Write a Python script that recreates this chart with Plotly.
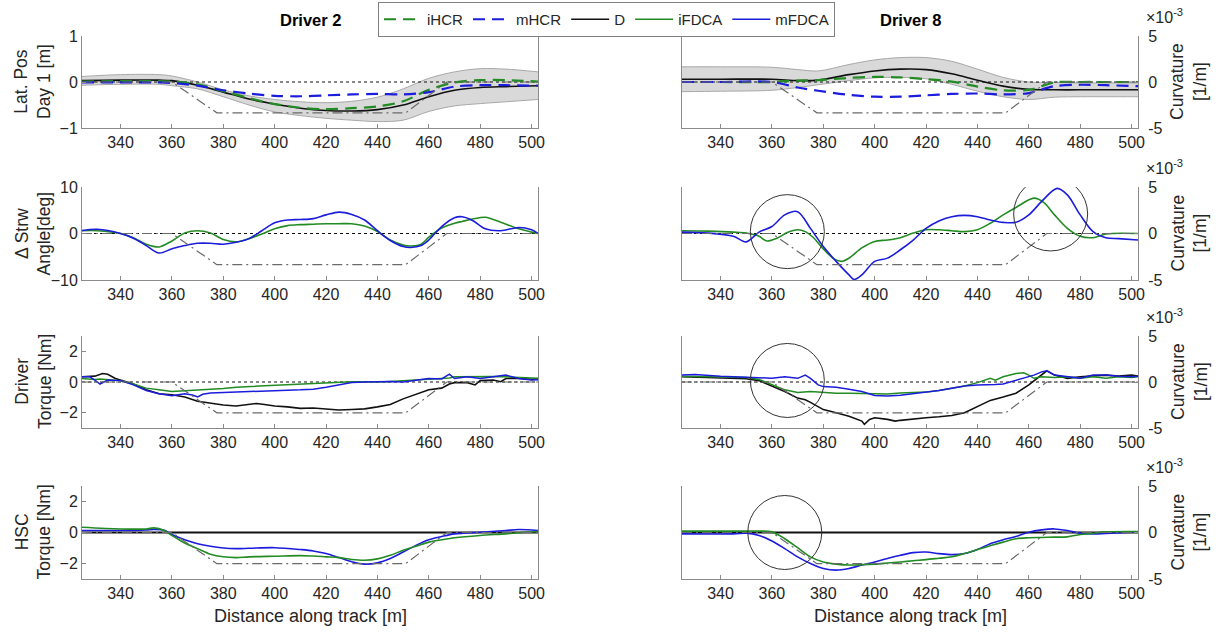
import plotly.graph_objects as go

FONT = "Liberation Sans, Arial, Helvetica, sans-serif"
TXT = "#262626"
AX = "#8a8a8a"
GREEN = "#238b23"
BLUE = "#1c1cdc"
BLACK = "#111111"
BAND_FILL = "#d9d9d9"
BAND_EDGE = "#a8a8a8"
CURV_COL = "#6a6a6a"

W, H = 1225, 635

# ---------------- shared axes ----------------
dist_range = [325, 502.5]
dist_ticks = [340, 360, 380, 400, 420, 440, 460, 480, 500]

# Track curvature along the lane change [1/m]
curv_x = [325, 360, 377.5, 451, 467, 502.5]
curv_k = [0.0, 0.0, -3.35e-3, -3.35e-3, 0.0, 0.0]
curv_ticks = [-5e-3, 0.0, 5e-3]
curv_ticktext = ["-5", "0", "5"]

ref_x = [325, 502.5]
ref_zero = [0.0, 0.0]

# ---------------- row 1: lateral position [m] ----------------
d2_lat_x = [325, 340, 355, 360, 370, 380, 390, 400, 410, 420, 430, 440, 450, 460, 470, 480, 490, 502.5]
d2_lat_hi = [0.12, 0.16, 0.16, 0.13, 0.00, -0.17, -0.30, -0.38, -0.43, -0.45, -0.42, -0.33, -0.15, 0.08, 0.22, 0.29, 0.28, 0.22]
d2_lat_lo = [-0.07, -0.05, -0.05, -0.08, -0.15, -0.32, -0.50, -0.65, -0.73, -0.79, -0.83, -0.86, -0.83, -0.64, -0.52, -0.47, -0.43, -0.38]
d2_lat_D = [0.03, 0.04, 0.04, 0.03, -0.07, -0.22, -0.37, -0.48, -0.57, -0.62, -0.63, -0.60, -0.50, -0.32, -0.18, -0.12, -0.10, -0.08]
d2_lat_iHCR = [0.01, 0.02, 0.02, 0.01, -0.05, -0.20, -0.35, -0.48, -0.56, -0.59, -0.57, -0.53, -0.42, -0.17, -0.01, 0.04, 0.04, 0.01]
d2_lat_mHCR = [-0.01, -0.01, -0.01, -0.02, -0.08, -0.18, -0.25, -0.30, -0.31, -0.29, -0.27, -0.26, -0.27, -0.22, -0.10, -0.07, -0.07, -0.08]

d8_lat_x = [325, 340, 360, 370, 378, 390, 400, 410, 420, 430, 440, 450, 460, 470, 480, 490, 502.5]
d8_lat_hi = [0.33, 0.33, 0.32, 0.27, 0.24, 0.38, 0.48, 0.53, 0.53, 0.45, 0.28, 0.10, 0.00, -0.01, -0.02, -0.02, -0.02]
d8_lat_lo = [-0.21, -0.20, -0.18, -0.12, -0.06, 0.03, 0.09, 0.10, 0.07, -0.05, -0.20, -0.32, -0.38, -0.33, -0.32, -0.32, -0.32]
d8_lat_D = [0.06, 0.06, 0.06, 0.03, 0.04, 0.16, 0.24, 0.28, 0.27, 0.18, 0.04, -0.09, -0.16, -0.17, -0.17, -0.17, -0.17]
d8_lat_iHCR = [0.00, 0.00, 0.00, 0.03, 0.04, 0.09, 0.11, 0.10, 0.06, 0.01, -0.10, -0.18, -0.17, -0.01, 0.00, 0.00, 0.00]
d8_lat_mHCR = [0.00, 0.00, 0.00, -0.12, -0.19, -0.28, -0.32, -0.32, -0.29, -0.26, -0.25, -0.27, -0.24, -0.09, -0.06, -0.07, -0.09]

# ---------------- row 2: steering wheel angle difference [deg] ----------------
d2_str_x = [325, 331, 340, 345, 350, 355, 360, 365, 370, 375, 380, 385, 390, 395, 400, 405, 410, 415, 420,
            425, 430, 435, 440, 445, 450, 453, 457, 460, 465, 470, 473, 477, 482, 488, 495, 500, 502.5]
d2_str_mFDCA = [0.65, 0.9, 0.0, -1.0, -2.6, -4.2, -3.3, -2.6, -2.1, -2.1, -2.3, -1.9, -1.1, 0.6, 2.3, 2.9, 3.0, 3.2, 4.0,
                4.6, 4.1, 2.9, 0.6, -1.5, -2.8, -3.0, -2.6, -1.4, 1.5, 3.4, 3.6, 2.8, 1.0, 0.6, 1.3, 0.8, 0.0]
d2_str_iFDCA = [0.6, 0.6, 0.0, -0.9, -2.3, -2.9, -1.6, 0.1, 0.6, 0.1, -1.3, -1.8, -1.1, -0.1, 1.0, 1.7, 1.9, 2.0, 2.1,
                2.1, 2.1, 1.6, 0.4, -1.4, -2.5, -2.7, -2.3, -0.8, 1.2, 2.2, 2.6, 3.1, 3.5, 2.4, 1.0, 0.3, 0.0]

d8_str_x_m = [325, 335, 345, 350, 355, 360, 365, 370, 375, 380, 385, 390, 392, 395, 400, 405, 410, 415,
              420, 425, 430, 435, 440, 445, 450, 455, 460, 465, 471, 475, 480, 485, 490, 495, 502.5]
d8_str_mFDCA = [0.3, 0.1, -0.6, -1.8, 0.3, 1.5, 4.0, 4.7, 1.1, -2.8, -6.0, -8.9, -9.9, -8.9, -6.0, -5.3, -3.5, -1.4,
                1.1, 2.7, 3.6, 3.9, 3.6, 2.9, 2.4, 2.4, 4.0, 6.9, 9.7, 8.3, 4.0, 0.4, -0.9, -1.1, -1.4]
d8_str_x_i = [325, 335, 345, 350, 355, 358, 362, 366, 370, 373, 376, 380, 384, 387, 390, 395, 400, 405,
              410, 415, 420, 425, 430, 435, 440, 445, 450, 455, 462, 466, 470, 475, 480, 485, 490, 502.5]
d8_str_iFDCA = [0.6, 0.5, 0.3, 0.1, -0.6, -1.6, -1.0, 0.2, 0.8, 0.4, -0.8, -3.3, -5.4, -6.0, -5.3, -3.1, -1.7, -1.4,
                -0.9, 0.1, 0.8, 0.8, 0.6, 0.4, 0.8, 2.2, 4.0, 5.6, 7.6, 6.6, 4.0, 1.1, -0.6, -0.9, -0.1, 0.0]

# ---------------- row 3: driver torque [Nm] ----------------
d2_trq_x_D = [325, 330, 333, 335, 338, 340, 345, 350, 355, 360, 365, 370, 375, 380, 385, 390, 393, 396, 400, 405, 410, 415,
              420, 425, 430, 435, 440, 445, 450, 455, 460, 465, 468, 470, 475, 478, 480, 485, 488, 490, 495, 500, 502.5]
d2_trq_D = [0.34, 0.38, 0.55, 0.50, 0.23, 0.13, -0.13, -0.50, -0.77, -0.83, -0.98, -1.26, -1.40, -1.50, -1.57, -1.47, -1.40, -1.47,
            -1.57, -1.62, -1.72, -1.70, -1.75, -1.83, -1.79, -1.75, -1.62, -1.47, -1.10, -0.83, -0.51, -0.40, -0.13, -0.04,
            -0.04, -0.19, 0.09, 0.13, 0.02, 0.23, 0.23, 0.17, 0.23]
d2_trq_x_F = [325, 328, 330, 332, 335, 340, 345, 350, 355, 360, 365, 368, 370, 372, 375, 380, 385, 390, 395, 400, 405,
              410, 415, 420, 425, 430, 435, 440, 445, 450, 455, 460, 465, 468, 470, 475, 480, 485, 490, 495, 500, 502.5]
d2_trq_iFDCA = [0.23, 0.20, 0.17, 0.20, 0.17, 0.09, -0.13, -0.40, -0.51, -0.62, -0.57, -0.55, -0.51, -0.52, -0.51, -0.43, -0.34,
                -0.30, -0.26, -0.19, -0.16, -0.13, -0.08, -0.04, 0.00, 0.02, 0.01, 0.00, 0.04, 0.09, 0.13, 0.17, 0.23, 0.26,
                0.34, 0.36, 0.38, 0.36, 0.34, 0.30, 0.23, 0.25]
d2_trq_mFDCA = [0.34, 0.34, 0.13, -0.13, 0.13, 0.09, -0.19, -0.55, -0.77, -0.89, -0.77, -0.85, -0.98, -0.80, -0.72, -0.68, -0.65,
                -0.62, -0.58, -0.55, -0.53, -0.51, -0.47, -0.34, -0.19, -0.04, 0.00, 0.02, 0.03, 0.00, 0.13, 0.23, 0.20, 0.51,
                0.23, 0.34, 0.23, 0.34, 0.45, 0.23, 0.13, 0.15]

d8_trq_x_D = [325, 340, 350, 355, 360, 365, 370, 373, 375, 380, 385, 390, 395, 396, 398, 400, 405, 408, 410, 415,
              420, 425, 430, 435, 440, 445, 450, 455, 460, 465, 467, 470, 475, 480, 485, 490, 495, 500, 502.5]
d8_trq_D = [0.34, 0.28, 0.21, 0.09, -0.26, -0.62, -1.05, -1.16, -1.33, -1.80, -2.01, -2.23, -2.55, -2.76, -2.44, -2.33, -2.44,
            -2.55, -2.50, -2.40, -2.33, -2.27, -2.18, -2.01, -1.58, -1.20, -0.98, -0.73, -0.19, 0.45, 0.73, 0.45, 0.24,
            0.34, 0.38, 0.45, 0.38, 0.45, 0.38]
d8_trq_x_F = [325, 330, 340, 350, 355, 360, 365, 370, 373, 375, 378, 380, 385, 390, 395, 400, 405, 410, 415, 420, 425,
              430, 435, 440, 445, 447, 450, 455, 458, 460, 462, 465, 467, 470, 475, 480, 485, 490, 495, 500, 502.5]
d8_trq_iFDCA = [0.38, 0.36, 0.34, 0.30, 0.17, -0.19, -0.51, -0.68, -0.66, -0.62, -0.66, -0.68, -0.73, -0.73, -0.75, -0.80,
                -0.78, -0.72, -0.70, -0.66, -0.56, -0.41, -0.26, -0.04, 0.24, 0.12, 0.34, 0.56, 0.60, 0.45, 0.24, 0.34,
                0.32, 0.30, 0.34, 0.24, 0.34, 0.24, 0.34, 0.30, 0.34]
d8_trq_mFDCA = [0.45, 0.49, 0.38, 0.34, 0.28, 0.24, 0.34, 0.24, 0.45, 0.24, -0.19, -0.30, -0.34, -0.47, -0.62, -0.88, -0.92,
                -0.86, -0.77, -0.68, -0.56, -0.41, -0.26, -0.19, -0.19, -0.17, -0.13, 0.13, 0.25, 0.34, 0.45, 0.66, 0.73,
                0.45, 0.34, 0.24, 0.45, 0.45, 0.38, 0.34, 0.38]

# ---------------- row 4: HSC torque [Nm] ----------------
hsc_D_x = [325, 502.5]
hsc_D = [0.0, 0.0]

d2_hsc_x = [325, 340, 350, 353, 357, 360, 365, 370, 375, 380, 385, 390, 400, 410, 415, 420, 425, 430, 435, 440, 445,
            450, 455, 460, 465, 470, 480, 490, 495, 502.5]
d2_hsc_iFDCA = [0.34, 0.23, 0.23, 0.30, 0.13, -0.19, -0.68, -1.04, -1.40, -1.57, -1.62, -1.57, -1.53, -1.49, -1.52, -1.57,
                -1.62, -1.74, -1.79, -1.70, -1.47, -1.15, -0.89, -0.62, -0.47, -0.34, -0.19, -0.09, -0.02, 0.06]
d2_hsc_mFDCA = [0.13, 0.13, 0.17, 0.20, 0.15, -0.13, -0.47, -0.72, -0.89, -1.00, -1.04, -1.02, -0.98, -1.10, -1.19, -1.36,
                -1.62, -1.89, -2.04, -1.96, -1.68, -1.26, -0.83, -0.47, -0.26, -0.09, 0.02, 0.13, 0.19, 0.13]

d8_hsc_x = [325, 345, 350, 355, 360, 365, 370, 375, 380, 385, 390, 395, 400, 405, 410, 415, 420, 425, 430, 435, 440,
            445, 450, 455, 460, 465, 470, 475, 480, 485, 490, 502.5]
d8_hsc_mFDCA = [-0.09, -0.09, -0.04, -0.19, -0.55, -1.04, -1.57, -2.00, -2.32, -2.43, -2.32, -2.10, -1.90, -1.68, -1.47,
                -1.30, -1.26, -1.36, -1.43, -1.36, -1.10, -0.72, -0.47, -0.26, 0.02, 0.17, 0.23, 0.13, -0.04, -0.09, -0.06, 0.04]
d8_hsc_iFDCA = [0.09, 0.09, 0.09, 0.09, 0.04, -0.40, -0.98, -1.57, -1.90, -2.04, -2.10, -2.08, -2.04, -1.97, -1.90, -1.82,
                -1.75, -1.66, -1.57, -1.35, -1.10, -0.86, -0.62, -0.40, -0.34, -0.32, -0.30, -0.28, -0.13, -0.05, 0.04, 0.06]

# ---------------- labels ----------------
column_titles = ["Driver 2", "Driver 8"]
row_titles = ["Lat. Pos<br>Day 1 [m]", "Δ Strw<br>Angle[deg]", "Driver<br>Torque [Nm]", "HSC<br>Torque [Nm]"]
row_ranges = [[-1, 1], [-10, 10], [-3, 3], [-3, 3]]
row_ticks = [[-1, 0, 1], [-10, 0, 10], [-2, 0, 2], [-2, 0, 2]]
curv_title = "Curvature<br>[1/m]"
x_title = "Distance along track [m]"

# ---------------- geometry (pixels) ----------------
col_px = [(82, 538), (682, 1138)]
row_px = [(36, 128), (187, 280), (336, 428), (486, 579)]


def ax_ref(kind, n):
    return kind if n == 1 else f"{kind}{n}"


def panel_refs(row, col):
    p = row * 2 + col + 1
    return p, ax_ref("x", p), ax_ref("y", 2 * p - 1), ax_ref("y", 2 * p)


fig = go.Figure()


def add_line(row, col, x, y, color, width=1.6, dash="solid", shape="spline", name=None, rank=None,
             secondary=False):
    _, xr, yp, ys = panel_refs(row, col)
    fig.add_trace(go.Scatter(
        x=x, y=y, mode="lines", xaxis=xr, yaxis=ys if secondary else yp,
        line=dict(color=color, width=width, dash=dash, shape=shape, smoothing=0.9 if shape == "spline" else None),
        name=name if name else "", showlegend=name is not None, legendrank=rank if rank else 1000,
        hoverinfo="skip"))


def add_band(row, col, x, hi, lo):
    _, xr, yp, _ = panel_refs(row, col)
    fig.add_trace(go.Scatter(x=x, y=hi, mode="lines", xaxis=xr, yaxis=yp,
                             line=dict(color=BAND_EDGE, width=1, shape="spline", smoothing=0.9),
                             showlegend=False, hoverinfo="skip"))
    fig.add_trace(go.Scatter(x=x, y=lo, mode="lines", xaxis=xr, yaxis=yp, fill="tonexty",
                             fillcolor=BAND_FILL,
                             line=dict(color=BAND_EDGE, width=1, shape="spline", smoothing=0.9),
                             showlegend=False, hoverinfo="skip"))


def add_refs(row, col):
    add_line(row, col, ref_x, ref_zero, BLACK, width=1.1, dash="dot", shape="linear")
    add_line(row, col, curv_x, curv_k, CURV_COL, width=1.2, dash="10px,4px,2px,4px", shape="linear",
             secondary=True)


DASH = "12px,7px"

# row 1
add_band(0, 0, d2_lat_x, d2_lat_hi, d2_lat_lo)
add_refs(0, 0)
add_line(0, 0, d2_lat_x, d2_lat_D, BLACK, 1.6, name="D", rank=3)
add_line(0, 0, d2_lat_x, d2_lat_iHCR, GREEN, 2.2, DASH, name="iHCR", rank=1)
add_line(0, 0, d2_lat_x, d2_lat_mHCR, BLUE, 2.2, DASH, name="mHCR", rank=2)

add_band(0, 1, d8_lat_x, d8_lat_hi, d8_lat_lo)
add_refs(0, 1)
add_line(0, 1, d8_lat_x, d8_lat_D, BLACK, 1.6)
add_line(0, 1, d8_lat_x, d8_lat_iHCR, GREEN, 2.2, DASH)
add_line(0, 1, d8_lat_x, d8_lat_mHCR, BLUE, 2.2, DASH)

# row 2
add_refs(1, 0)
add_line(1, 0, d2_str_x, d2_str_iFDCA, GREEN, 1.6, name="iFDCA", rank=4)
add_line(1, 0, d2_str_x, d2_str_mFDCA, BLUE, 1.6, name="mFDCA", rank=5)
add_refs(1, 1)
add_line(1, 1, d8_str_x_i, d8_str_iFDCA, GREEN, 1.6)
add_line(1, 1, d8_str_x_m, d8_str_mFDCA, BLUE, 1.6)

# row 3
add_refs(2, 0)
add_line(2, 0, d2_trq_x_D, d2_trq_D, BLACK, 1.6, shape="linear")
add_line(2, 0, d2_trq_x_F, d2_trq_iFDCA, GREEN, 1.5, shape="linear")
add_line(2, 0, d2_trq_x_F, d2_trq_mFDCA, BLUE, 1.5, shape="linear")
add_refs(2, 1)
add_line(2, 1, d8_trq_x_D, d8_trq_D, BLACK, 1.6, shape="linear")
add_line(2, 1, d8_trq_x_F, d8_trq_iFDCA, GREEN, 1.5, shape="linear")
add_line(2, 1, d8_trq_x_F, d8_trq_mFDCA, BLUE, 1.5, shape="linear")

# row 4
for c, xs, gi, bm in [(0, d2_hsc_x, d2_hsc_iFDCA, d2_hsc_mFDCA), (1, d8_hsc_x, d8_hsc_iFDCA, d8_hsc_mFDCA)]:
    add_refs(3, c)
    add_line(3, c, hsc_D_x, hsc_D, BLACK, 1.8, shape="linear")
    add_line(3, c, xs, bm, BLUE, 1.6)
    add_line(3, c, xs, gi, GREEN, 1.6)

# ---------------- axes ----------------
layout = {}
tickfont = dict(family=FONT, size=16, color=TXT)
for row in range(4):
    for col in range(2):
        p, xr, yp, ys = panel_refs(row, col)
        x0, x1 = col_px[col]
        t, b = row_px[row]
        layout[ax_ref("xaxis", p)] = dict(
            domain=[x0 / W, x1 / W], anchor=yp, range=dist_range, tickvals=dist_ticks,
            ticks="inside", ticklen=4, tickcolor=AX, showline=True, linecolor=AX, linewidth=1,
            showgrid=False, zeroline=False, tickfont=tickfont, fixedrange=True, automargin=False)
        layout[ax_ref("yaxis", 2 * p - 1)] = dict(
            domain=[1 - b / H, 1 - t / H], anchor=xr, range=row_ranges[row], tickvals=row_ticks[row],
            ticks="inside" if col == 0 else "", ticklen=4, tickcolor=AX, showticklabels=col == 0,
            showline=True, linecolor=AX, linewidth=1, showgrid=False, zeroline=False, tickfont=tickfont,
            fixedrange=True, automargin=False)
        layout[ax_ref("yaxis", 2 * p)] = dict(
            overlaying=yp, side="right", anchor=xr, range=[-5e-3, 5e-3], tickvals=curv_ticks,
            ticktext=curv_ticktext, ticks="inside" if col == 1 else "", ticklen=4, tickcolor=AX,
            showticklabels=col == 1, ticklabelstandoff=6, showline=True, linecolor=AX, linewidth=1,
            showgrid=False, zeroline=False, tickfont=tickfont, fixedrange=True, automargin=False)

fig.update_layout(**layout)

# ---------------- text ----------------
ann = []


def label(px, py, text, size, color=TXT, angle=0):
    ann.append(dict(x=px / W, y=1 - py / H, xref="paper", yref="paper", text=text, textangle=angle,
                    xanchor="center", yanchor="middle", showarrow=False,
                    font=dict(family=FONT, size=size, color=color)))


for col, title in enumerate(column_titles):
    cx = (col_px[col][0] + col_px[col][1]) / 2
    label(cx, 20, f"<b>{title}</b>", 16.5, "#000000")
    label(cx, 616, x_title, 18)
for row, title in enumerate(row_titles):
    cy = (row_px[row][0] + row_px[row][1]) / 2
    label(33, cy, title, 17.5, angle=-90)
    label(1189, cy, curv_title, 17.5, angle=-90)
    label(1164, row_px[row][0] - 20, "×10<sup>-3</sup>", 16)

# highlight circles
circles = [("x4", "y7", 366, 0.4), ("x4", "y7", 468.5, 4.2), ("x6", "y11", 366, 0.1), ("x8", "y15", 365, 0.0)]
shapes = []
for xr, yr, cx, cy in circles:
    shapes.append(dict(type="circle", xref=xr, yref=yr, xsizemode="pixel", ysizemode="pixel",
                       xanchor=cx, yanchor=cy, x0=-37, x1=37, y0=-37, y1=37,
                       line=dict(color="#333333", width=1)))

fig.update_layout(
    width=W, height=H, margin=dict(l=0, r=0, t=0, b=0, autoexpand=False),
    paper_bgcolor="white", plot_bgcolor="rgba(0,0,0,0)",
    font=dict(family=FONT, size=16, color=TXT),
    annotations=ann, shapes=shapes,
    legend=dict(orientation="h", x=378 / W, y=1 - 2 / H, xanchor="left", yanchor="top",
                traceorder="normal", itemwidth=38,
                bordercolor="#7f7f7f", borderwidth=1, bgcolor="white",
                font=dict(family=FONT, size=15, color=TXT)),
)

fig.write_html("out.html")
